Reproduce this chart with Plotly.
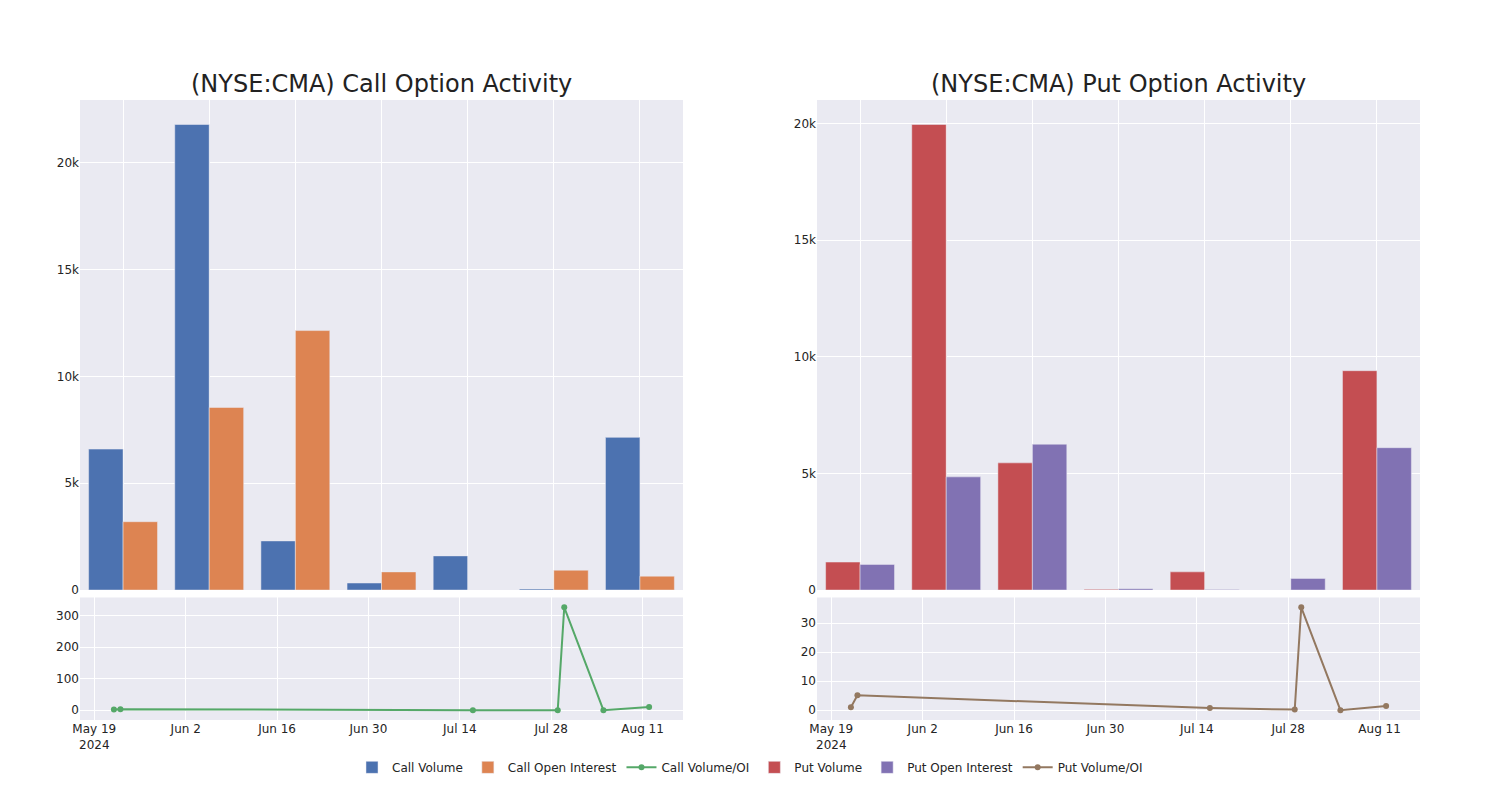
import plotly.graph_objects as go
from plotly.subplots import make_subplots

dates = ["2024-05-22", "2024-05-23", "2024-07-16", "2024-07-29", "2024-07-30", "2024-08-05", "2024-08-12"]

call_volume = [6600, 21800, 2300, 330, 1600, 50, 7150]
call_oi = [3200, 8550, 12150, 850, 0, 930, 650]
call_vol_oi = [2, 3, 0, 0, 326, 0, 10]

put_volume = [1200, 19950, 5450, 30, 780, 0, 9400]
put_oi = [1100, 4850, 6250, 60, 20, 500, 6100]
put_vol_oi = [1, 5.1, 0.7, 0.2, 35.5, 0, 1.4]

fig = make_subplots(
    rows=2, cols=2,
    subplot_titles=("(NYSE:CMA) Call Option Activity", "(NYSE:CMA) Put Option Activity"),
    row_heights=[0.8, 0.2],
    vertical_spacing=0.012,
    horizontal_spacing=0.1,
)

fig.add_trace(go.Bar(x=dates, y=call_volume, name="Call Volume"), row=1, col=1)
fig.add_trace(go.Bar(x=dates, y=call_oi, name="Call Open Interest"), row=1, col=1)
fig.add_trace(go.Scatter(x=dates, y=call_vol_oi, name="Call Volume/OI", mode="lines+markers"), row=2, col=1)
fig.add_trace(go.Bar(x=dates, y=put_volume, name="Put Volume"), row=1, col=2)
fig.add_trace(go.Bar(x=dates, y=put_oi, name="Put Open Interest"), row=1, col=2)
fig.add_trace(go.Scatter(x=dates, y=put_vol_oi, name="Put Volume/OI", mode="lines+markers"), row=2, col=2)

fig.update_xaxes(type="category", showticklabels=False, row=1, col=1)
fig.update_xaxes(type="category", showticklabels=False, row=1, col=2)
fig.update_xaxes(type="date", row=2, col=1)
fig.update_xaxes(type="date", row=2, col=2)

fig.update_annotations(font=dict(size=24, family="DejaVu Sans", color="#222"))

fig.update_layout(
    template="seaborn",
    font=dict(family="DejaVu Sans", size=12),
    width=1492, height=792,
    margin=dict(l=72, r=80, t=92, b=80),
    legend=dict(orientation="h", x=0.5, xanchor="center", y=-0.053, yanchor="top"),
)

fig.write_html("out.html")
